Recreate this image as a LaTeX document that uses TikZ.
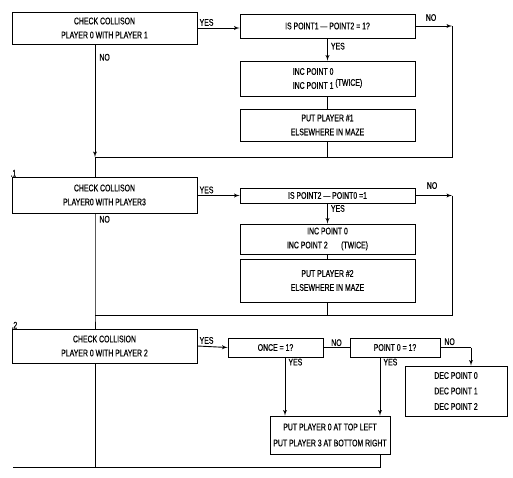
\documentclass[tikz,border=0pt]{standalone}
\usepackage{fontspec}
\newfontfamily\chartfont[FakeStretch=0.72,FakeBold=0.6]{Liberation Sans}
\usepackage{tikz}
\usetikzlibrary{arrows,positioning,calc}
\tikzstyle{line} = [draw, -latex']
\tikzstyle{block} = [draw, rectangle, inner sep=1pt, align=center, font=\chartfont\fontsize{9.6}{14}\selectfont]
\tikzstyle{lbl} = [inner sep=1pt, font=\chartfont\fontsize{9.6}{11}\selectfont]

\begin{document}
\begin{tikzpicture}[x=1pt,y=-1pt,line width=0.9pt]
		\useasboundingbox (0,0) rectangle (513,477);
		
		% joining points of the three checks
		\coordinate (join1) at (95,157);  \coordinate (back1) at (452,157);
		\coordinate (join2) at (95,315);  \coordinate (back2) at (452,315);
		\coordinate (join3) at (95,467);  \coordinate (out3) at (13,467);
		\coordinate (colA) at (285,0);    \coordinate (colB) at (380,467);
		\coordinate (turn3) at (471,347.5);
		
		% check player 0 with player 1
		\node[block, minimum width=185pt, minimum height=32pt] (chk1) at (104.5,28) {CHECK COLLISON\\PLAYER 0 WITH PLAYER 1};
		\node[block, minimum width=175pt, minimum height=24pt] (ask1) at (327.5,26) {IS POINT1 — POINT2 = 1?};
		\node[block, minimum width=175pt, minimum height=35pt, align=left] (inc1) at (327.5,78.5) {INC POINT 0\\INC POINT 1 \raisebox{3pt}{(TWICE)}};
		\node[block, minimum width=175pt, minimum height=32pt] (put1) at (327.5,125) {PUT PLAYER \#1\\ELSEWHERE IN MAZE};
		
		\path[line] (chk1.east) -- (chk1.east -| ask1.west) node[lbl, pos=0, above right=1pt]{YES}; %yes
		\path[line] (ask1) -- (inc1) node[lbl, pos=0.35, right=2pt]{YES};
		\draw (inc1) -- (put1);
		\draw (put1) -- (put1 |- join1);
		\path[line] (ask1.east) -- (ask1.east -| back1); %no
		\node[lbl, anchor=west] at ($(ask1.north east)+(9,4)$) {NO};
		\draw (ask1.east -| back1) -- (back1) -- (join1);
		\path[line] (chk1.south -| join1) -- (join1) ;
		\node[lbl, anchor=north west] at ($(chk1.south -| join1)+(3,8)$) {NO};
		\draw (join1) -- (join1 |- 0,177);
		
		% check player 0 with player 3
		\node[lbl, anchor=south west] at (9,178) {.1};
		\node[block, minimum width=185pt, minimum height=36pt] (chk2) at (104.5,195) {CHECK COLLISON\\PLAYER0 WITH PLAYER3};
		\node[block, minimum width=175pt, minimum height=15pt] (ask2) at (327.5,195.5) {IS POINT2 — POINT0 =1};
		\node[block, minimum width=175pt, minimum height=30pt] (inc2) at (327.5,239) {INC POINT 0\\INC POINT 2 \quad\ (TWICE)};
		\node[block, minimum width=175pt, minimum height=43pt] (put2) at (327.5,280.5) {PUT PLAYER \#2\\ELSEWHERE IN MAZE};
		
		\path[line] (chk2.east |- ask2.west) -- (ask2.west) node[lbl, pos=0, above right=1pt]{YES}; %yes
		\path[line] (ask2) -- (inc2) node[lbl, pos=0.25, right=2pt]{YES};
		\draw (inc2) -- (put2);
		\draw (put2) -- (put2 |- join2);
		\path[line] (ask2.east) -- (ask2.east -| back2); %no
		\node[lbl, anchor=west] at ($(ask2.north east)+(10,-2)$) {NO};
		\draw (ask2.east -| back2) -- (back2) -- (join2);
		\draw (chk2.south -| join2) -- (join2) -- (join2 |- 0,329);
		\node[lbl, anchor=north west] at ($(chk2.south -| join2)+(3,1)$) {NO};
		
		% check player 0 with player 2
		\node[lbl, anchor=south west] at (10,330) {.2};
		\node[block, minimum width=185pt, minimum height=34pt] (chk3) at (104.5,346) {CHECK COLLISION\\PLAYER 0 WITH PLAYER 2};
		\node[block, minimum width=95pt, minimum height=19pt] (once3) at (275.5,347.5) {ONCE = 1?};
		\node[block, minimum width=90pt, minimum height=19pt] (zero3) at (395,347.5) {POINT 0 = 1?};
		\node[block, minimum width=102pt, minimum height=50pt, font=\chartfont\fontsize{9.6}{15.5}\selectfont] (dec3) at (456,391) {DEC POINT 0\\DEC POINT 1\\DEC POINT 2};
		\node[block, minimum width=120pt, minimum height=38pt, font=\chartfont\fontsize{9.6}{16}\selectfont] (put3) at (330,435) {PUT PLAYER 0 AT TOP LEFT\\PUT PLAYER 3 AT BOTTOM RIGHT};
		
		\path[line] (chk3.east) -- (once3.west) node[lbl, pos=0, above right=1pt]{YES};
		\draw (once3.east) -- (zero3.west) node[lbl, pos=0.5, above=0pt]{NO};
		\draw (zero3.east) -- (turn3) node[lbl, pos=0.3, above=1pt]{NO};
		\path[line] (turn3) -- (turn3 |- dec3.north);
		\path[line] (colA |- once3.south) -- (colA |- put3.north) node[lbl, pos=0.08, right=2pt]{YES};
		\path[line] (colB |- zero3.south) -- (colB |- put3.north) node[lbl, pos=0.08, right=2pt]{YES};
		\draw (colB |- put3.south) -- (colB) -- (out3);
		\draw (chk3.south -| join3) -- (join3);
		
		\end{tikzpicture}
\end{document}
